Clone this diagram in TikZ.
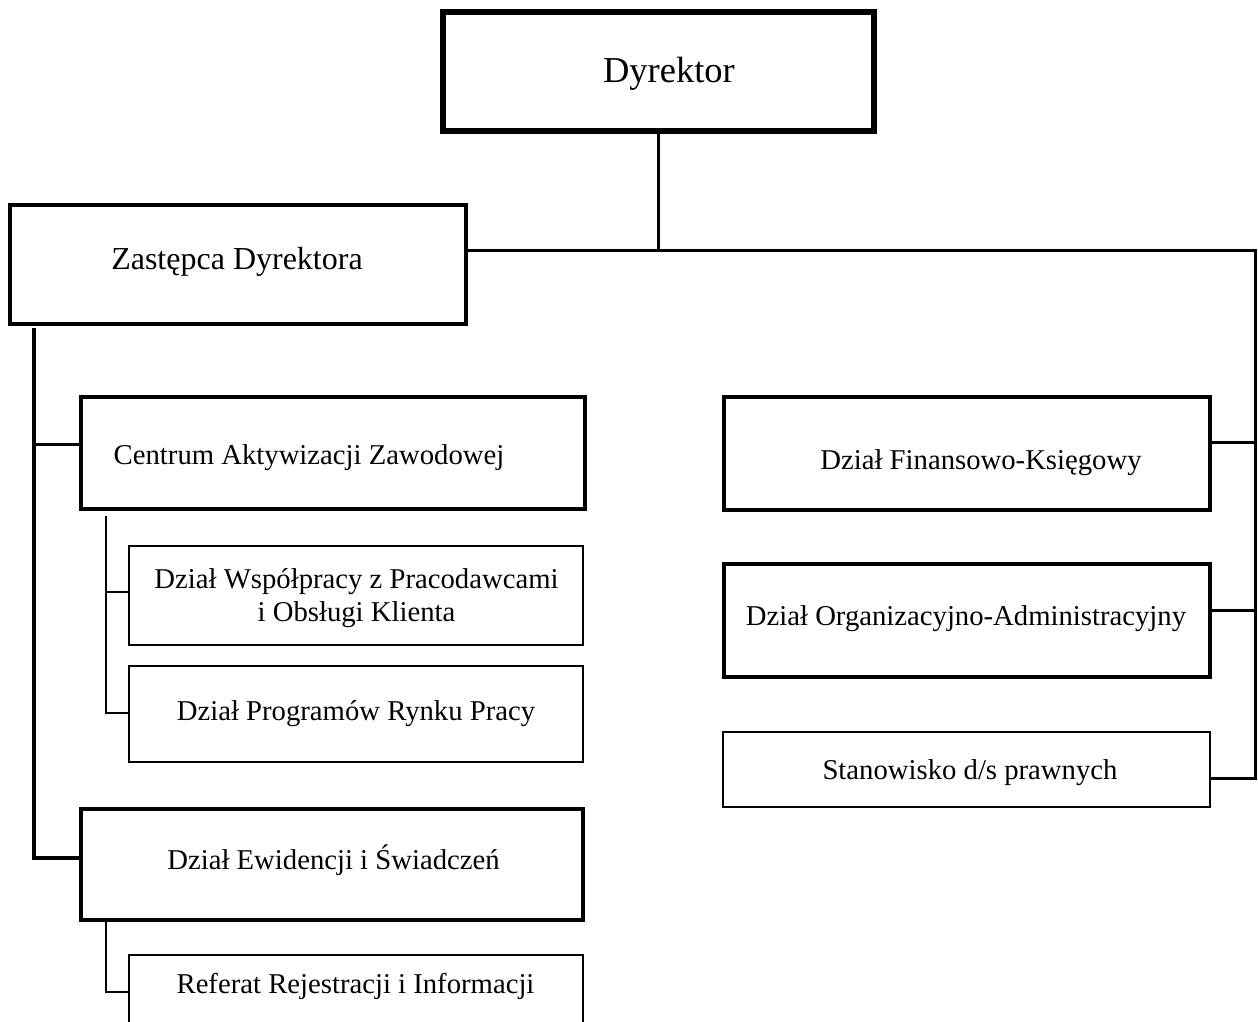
\documentclass[tikz,border=0pt]{standalone}
\usepackage{fontspec}
\setmainfont{Liberation Serif}
\begin{document}
\begin{tikzpicture}[x=1pt,y=-1pt,
  box/.style={draw=black, rectangle, inner sep=0pt, outer sep=0pt, fill=white},
  heavy/.style={box, line width=4pt},
  light/.style={box, line width=1.6pt},
  lbl/.style={anchor=base, inner sep=0pt, font=\fontsize{28.7}{33}\selectfont},
  conn/.style={draw=black, line width=3pt},
  connthick/.style={draw=black, line width=4pt},
  connthin/.style={draw=black, line width=1.6pt}]
\useasboundingbox (0,0) rectangle (1258,1021);
\fill[white] (0,0) rectangle (1258,1021);
\clip (0,0) rectangle (1258,1021);

% boxes
\node[box, line width=6pt, minimum width=431pt, minimum height=119pt] (dyr) at (658.5,71.5) {};
\node[box, line width=4.5pt, minimum width=456pt, minimum height=119pt] (zas) at (238,264.5) {};
\node[heavy, minimum width=504pt, minimum height=112pt] (cen) at (333,453) {};
\node[light, minimum width=454pt, minimum height=99pt] (wsp) at (356,595.5) {};
\node[light, minimum width=454pt, minimum height=96pt] (prog) at (356,714) {};
\node[heavy, minimum width=502pt, minimum height=111pt] (ewi) at (332,864.5) {};
\node[light, minimum width=454pt, minimum height=105pt] (ref) at (356,1007.5) {};
\node[heavy, minimum width=486pt, minimum height=113pt] (fin) at (967,453.5) {};
\node[heavy, minimum width=486pt, minimum height=113pt] (org) at (967,620.5) {};
\node[light, minimum width=487pt, minimum height=75pt] (sta) at (966.5,769.5) {};

% labels
\node[lbl, font=\fontsize{36.5}{40}\selectfont] (tdyr) at (669,82) {Dyrektor};
\node[lbl, font=\fontsize{32}{36}\selectfont] (tzas) at (237,269) {Zastępca Dyrektora};
\node[lbl] (tcen) at (309,464) {Centrum Aktywizacji Zawodowej};
\node[lbl] (twspa) at (356.5,588) {Dział Współpracy z Pracodawcami};
\node[lbl] (twspb) at (356.5,621) {i Obsługi Klienta};
\node[lbl] (tprog) at (356,720) {Dział Programów Rynku Pracy};
\node[lbl] (tewi) at (333.5,869) {Dział Ewidencji i Świadczeń};
\node[lbl] (tref) at (355.5,993) {Referat Rejestracji i Informacji};
\node[lbl] (tfin) at (981,469) {Dział Finansowo-Księgowy};
\node[lbl] (torg) at (966,625) {Dział Organizacyjno-Administracyjny};
\node[lbl] (tsta) at (970,779) {Stanowisko d/s prawnych};

% junction coordinates
\coordinate (jtop) at (658.5,250);
\coordinate (rtop) at (1255,250);
\coordinate (rfin) at (1255,442);
\coordinate (rorg) at (1255,610);
\coordinate (rbot) at (1255,778);
\coordinate (ltop) at (34,328);
\coordinate (lcen) at (34,444);
\coordinate (lewi) at (34,858);
\coordinate (s1top) at (106,516);
\coordinate (s1a) at (106,592);
\coordinate (s1b) at (106,713);
\coordinate (s2top) at (106,920);
\coordinate (s2b) at (106,992);

% connectors
\draw[conn] (dyr.south) -- (jtop);
\draw[conn] (zas.east |- jtop) -- (rtop) -- (rbot) -- (sta.east |- rbot);
\draw[conn] (fin.east |- rfin) -- (rfin);
\draw[conn] (org.east |- rorg) -- (rorg);
\draw[connthick] (ltop) -- (lewi) -- (ewi.west |- lewi);
\draw[conn] (lcen) -- (cen.west |- lcen);
\draw[connthin] (s1top) -- (s1b) -- (prog.west |- s1b);
\draw[connthin] (s1a) -- (wsp.west |- s1a);
\draw[connthin] (s2top) -- (s2b) -- (ref.west |- s2b);
\end{tikzpicture}
\end{document}
